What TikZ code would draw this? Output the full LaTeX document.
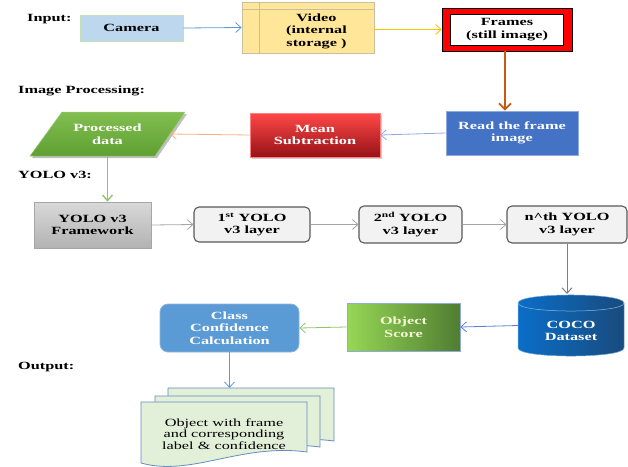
\documentclass[tikz,border=0pt]{standalone}
\usepackage{fontspec}
\setmainfont{Liberation Serif}[FakeStretch=1.48]
\usetikzlibrary{arrows.meta,shadows}
\definecolor{camfill}{HTML}{BDD7EE}
\definecolor{camdraw}{HTML}{C5E0B4}
\definecolor{vidfill}{HTML}{FFE699}
\definecolor{viddraw}{RGB}{200,190,160}
\definecolor{readfill}{HTML}{4472C4}
\definecolor{readdraw}{HTML}{8FAADC}
\definecolor{meantop}{RGB}{255,72,72}
\definecolor{meanbot}{RGB}{150,18,22}
\definecolor{proctop}{RGB}{130,190,80}
\definecolor{procbot}{RGB}{95,160,50}
\definecolor{layfill}{HTML}{F2F2F2}
\definecolor{laydraw}{HTML}{595959}
\definecolor{cocoL}{RGB}{10,110,200}
\definecolor{cocoR}{RGB}{25,75,125}
\definecolor{objL}{RGB}{150,215,85}
\definecolor{objR}{RGB}{80,125,50}
\definecolor{clsfill}{HTML}{5B9BD5}
\definecolor{clsdraw}{HTML}{8FB4E3}
\definecolor{docfill}{HTML}{E2F0D9}
\definecolor{docdraw}{RGB}{100,140,190}
\definecolor{aBlue}{HTML}{5B9BD5}
\definecolor{aYellow}{HTML}{FFC000}
\definecolor{aBrown}{HTML}{C55A11}
\definecolor{aLBlue}{HTML}{8FAADC}
\definecolor{aOrange}{HTML}{F4B183}
\definecolor{aGreen}{HTML}{8CC66A}
\definecolor{aGray}{HTML}{A6A6A6}
\definecolor{aDGray}{HTML}{7F7F7F}
\definecolor{aCoco}{HTML}{5B7FD5}
\begin{document}
\begin{tikzpicture}[x=1pt,y=-1pt,
  txt/.style={font=\bfseries\fontsize{11}{12.5}\selectfont, align=center, inner sep=0pt},
  lbl/.style={font=\bfseries\fontsize{11}{12.5}\selectfont, inner sep=0pt, anchor=west},
  layer/.style={txt, draw=laydraw, line width=1.1pt, fill=layfill, rounded corners=5pt},
  arr/.style={-{Straight Barb[length=5.5pt,width=10pt]}, line width=0.8pt},
]
\useasboundingbox (0,0) rectangle (628,466);

% section labels
\node[lbl] (lin) at (27,19) {Input:};
\node[lbl] (limg) at (18,91) {Image Processing:};
\node[lbl] (lyolo) at (18,175) {YOLO v3:};
\node[lbl] (lout) at (18,367) {Output:};

% input row
\node[txt, fill=camfill, draw=camdraw, line width=0.8pt, minimum width=103, minimum height=26] (cam) at (131.5,28) {Camera};
\node[fill=vidfill, draw=viddraw, line width=0.8pt, minimum width=132, minimum height=51, inner sep=0pt] (video) at (308,27.5) {};
\draw[viddraw, line width=0.8pt] (video.north west |- 0,9) -- (video.north east |- 0,9);
\draw[viddraw, line width=0.8pt] (259,2) -- (259,53);
\node[txt] (videot) at (316.5,31) {Video\\(internal\\storage )};
\node[fill=red, draw=black, line width=0.6pt, minimum width=130, minimum height=43, inner sep=0pt] (frames) at (507,29.5) {};
\node[txt, fill=white, draw=black, line width=0.6pt, minimum width=113, minimum height=31] (framesin) at (507,29.5) {Frames\\(still image)};

% image processing row
\node[txt, text=white, fill=readfill, draw=readdraw, line width=0.8pt, minimum width=132, minimum height=44] (read) at (512,133) {Read the frame\\image};
\node[txt, text=white, top color=meantop, bottom color=meanbot, draw=meantop!70!white, line width=0.5pt, minimum width=130, minimum height=44,
  drop shadow={shadow xshift=1.5pt, shadow yshift=-1.5pt, opacity=0.35}] (mean) at (315,135) {Mean\\Subtraction};
\fill[black, opacity=0.25] (64,114) -- (187,114) -- (157,158) -- (32,158) -- cycle;
\shade[top color=proctop, bottom color=procbot] (62,112) -- (185,112) -- (155,156) -- (30,156) -- cycle;
\draw[proctop!80!white, line width=0.5pt] (62,112) -- (185,112) -- (155,156) -- (30,156) -- cycle;
\node[txt, text=white, minimum width=125, minimum height=44] (proc) at (107.5,134) {Processed\\data};

% YOLO row
\node[txt, top color=black!15, bottom color=black!30, draw=aGray, line width=0.8pt, minimum width=117, minimum height=46] (yfw) at (92.5,225) {YOLO v3\\Framework};
\node[layer, minimum width=116, minimum height=35] (l1) at (252,224.5) {1\textsuperscript{st} YOLO\\v3 layer};
\node[layer, minimum width=103, minimum height=37] (l2) at (410.5,224.5) {2\textsuperscript{nd} YOLO\\v3 layer};
\node[layer, minimum width=120, minimum height=37] (l3) at (567,224.5) {n\textasciicircum th YOLO\\v3 layer};

% COCO cylinder
\shade[left color=cocoL, right color=cocoR]
  (518,303) .. controls (518,292.3) and (624,292.3) .. (624,303)
  -- (624,348) .. controls (624,358.7) and (518,358.7) .. (518,348) -- cycle;
\draw[cocoL!60!white, line width=0.5pt]
  (518,303) .. controls (518,292.3) and (624,292.3) .. (624,303)
  -- (624,348) .. controls (624,358.7) and (518,358.7) .. (518,348) -- cycle;
\draw[cocoL!50!white, line width=0.5pt] (518,303) .. controls (518,313.7) and (624,313.7) .. (624,303);
\node[minimum width=106, minimum height=61, inner sep=0pt] (coco) at (571,325.5) {};
\node[txt, text=white] (cocot) at (571,331) {COCO\\Dataset};

\node[txt, text={rgb,255:red,245;green,245;blue,215}, left color=objL, right color=objR, draw=readdraw, line width=0.8pt, minimum width=113, minimum height=48] (obj) at (403.5,327) {Object\\Score};
\node[txt, text=white, fill=clsfill, draw=clsdraw, line width=0.8pt, rounded corners=8pt, minimum width=139, minimum height=48] (cls) at (229.5,328) {Class\\Confidence\\Calculation};

% documents
\foreach \xa/\xb/\yt/\br/\bl in {168/334/388/441/452, 155/320/396/447/458, 141/307/402/452/463}{
  \filldraw[fill=docfill, draw=docdraw, line width=0.8pt]
    (\xa,\yt) -- (\xb,\yt) -- (\xb,\br)
    .. controls ({\xb-66},{\br-9}) and ({\xa+50},{\bl+14}) .. (\xa,\bl) -- cycle;
}
\node[font=\fontsize{11}{11.7}\selectfont, align=center, inner sep=0pt] (doc) at (224,434) {Object with frame\\and corresponding\\label \& confidence};
\coordinate (doctop) at (229.5,388);

% connectors
\draw[arr, aBlue] (cam.east) -- (video.west);
\draw[arr, aYellow] (video.east |- frames.west) -- (frames.west);
\draw[arr, aBrown, line width=1.8pt, -{Straight Barb[length=6pt,width=12pt]}] (frames.south -| 505,0) -- (505,0 |- read.north);
\draw[arr, aLBlue] (read.west) -- (mean.east);
\draw[arr, aOrange] (mean.west) -- (proc.east);
\draw[arr, aGreen, line width=1.4pt] (proc.south) -- (proc.south |- yfw.north);
\draw[arr, aGray] (yfw.east) -- (l1.west);
\draw[arr, aGray] (l1.east) -- (l2.west);
\draw[arr, aGray] (l2.east) -- (l3.west);
\draw[arr, aDGray, line width=1pt] (l3.south) -- (l3.south |- 0,294);
\draw[arr, aCoco] (coco.west) -- (obj.east);
\draw[arr, aGreen] (obj.west) -- (cls.east);
\draw[arr, aBlue] (cls.south) -- (doctop);
\end{tikzpicture}
\end{document}
